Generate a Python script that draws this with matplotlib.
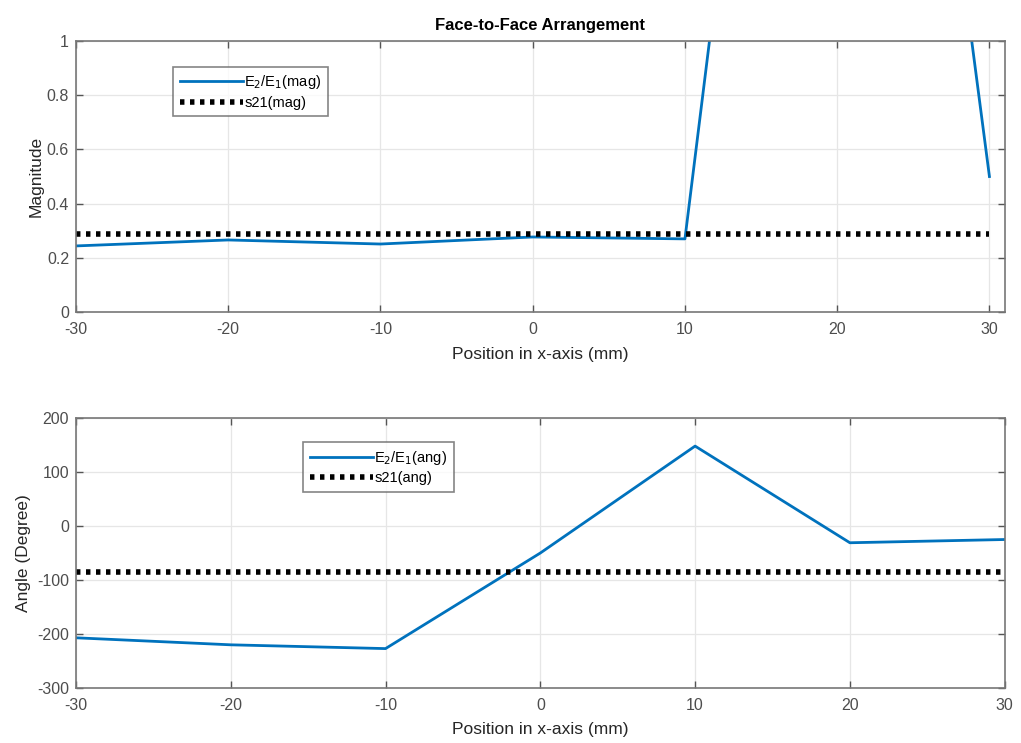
import matplotlib
matplotlib.use("Agg")
import matplotlib.pyplot as plt

x = [-30, -20, -10, 0, 10, 20, 30]
mag = [0.244, 0.266, 0.251, 0.277, 0.270, 4.8, 0.50]
s21_mag = 0.288
ang = [-207, -220, -227, -50, 148, -31, -25]
s21_ang = -85
xticks = [-30, -20, -10, 0, 10, 20, 30]
mag_ticks = [0, 0.2, 0.4, 0.6, 0.8, 1]
mag_ticklabels = ["0", "0.2", "0.4", "0.6", "0.8", "1"]
ang_ticks = [-300, -200, -100, 0, 100, 200]

plt.rcParams['font.family'] = ['Liberation Sans', 'DejaVu Sans']
plt.rcParams['axes.unicode_minus'] = False
blue = '#0072BD'
gray = '#262626'
tickc = '#4d4d4d'

fig = plt.figure(figsize=(10.21, 7.43), dpi=100)
ax1 = fig.add_axes([0.0744, 0.580, 0.9096, 0.3648])
ax2 = fig.add_axes([0.0744, 0.074, 0.9096, 0.3634])

def style(ax):
    ax.grid(True, color='#e6e6e6', linewidth=0.9)
    ax.set_axisbelow(True)
    ax.tick_params(direction='in', top=True, right=True, length=5, width=1,
                   colors='#555555', labelcolor=tickc, labelsize=11.5)
    ax.tick_params(axis='x', pad=7)
    ax.tick_params(axis='y', pad=5)
    for s in ax.spines.values():
        s.set_color('#777777')
        s.set_linewidth(1.2)

ax1.plot(x, mag, color=blue, lw=2, label=r'E$_2$/E$_1$(mag)')
ax1.plot([x[0], x[-1]], [s21_mag, s21_mag], color='black', lw=4,
         linestyle=(0, (0.8, 1.0)), label='s21(mag)')
ax1.set_xlim(-30, 31)
ax1.set_ylim(0, 1)
ax1.set_xticks(xticks)
ax1.set_yticks(mag_ticks)
ax1.set_yticklabels(mag_ticklabels)
style(ax1)
ax1.set_xlabel('Position in x-axis (mm)', fontsize=12.5, color=gray, labelpad=7)
ax1.set_ylabel('Magnitude', fontsize=12.5, color=gray, labelpad=2)
ax1.set_title('Face-to-Face Arrangement', fontsize=12, fontweight='bold', pad=8)
leg1 = ax1.legend(loc='upper left', bbox_to_anchor=(0.105, 0.905), fontsize=10.5,
                  frameon=True, fancybox=False, handlelength=4.3, handletextpad=0.1,
                  borderpad=0.45, labelspacing=0.3, borderaxespad=0)
leg1.get_frame().set_edgecolor('#666666')
leg1.get_frame().set_linewidth(1.2)

ax2.plot(x, ang, color=blue, lw=2, label=r'E$_2$/E$_1$(ang)')
ax2.plot([x[0], x[-1]], [s21_ang, s21_ang], color='black', lw=4,
         linestyle=(0, (0.8, 1.0)), label='s21(ang)')
ax2.set_xlim(-30, 30)
ax2.set_ylim(-300, 200)
ax2.set_xticks(xticks)
ax2.set_yticks(ang_ticks)
style(ax2)
ax2.set_xlabel('Position in x-axis (mm)', fontsize=12.5, color=gray, labelpad=7)
ax2.set_ylabel('Angle (Degree)', fontsize=12.5, color=gray, labelpad=4)
leg2 = ax2.legend(loc='upper left', bbox_to_anchor=(0.245, 0.91), fontsize=10.5,
                  frameon=True, fancybox=False, handlelength=4.3, handletextpad=0.1,
                  borderpad=0.45, labelspacing=0.3, borderaxespad=0)
leg2.get_frame().set_edgecolor('#666666')
leg2.get_frame().set_linewidth(1.2)

fig.savefig('out.png', dpi=100)
